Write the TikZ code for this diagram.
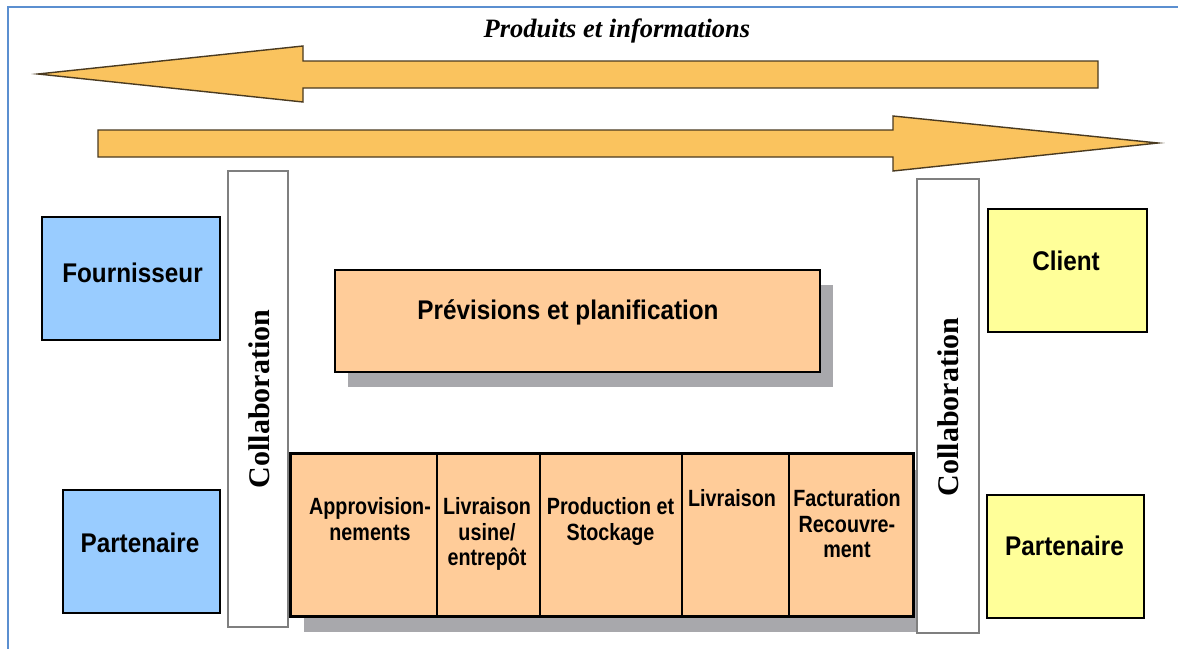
\documentclass[tikz,border=0pt]{standalone}
\usepackage{fontspec}
\setmainfont{Liberation Serif}
\newfontfamily\lsans[FakeStretch=0.9]{Liberation Sans}
\newfontfamily\lsanscond[FakeStretch=0.84]{Liberation Sans}
\definecolor{arrowfill}{HTML}{FAC35E}
\definecolor{arrowdraw}{HTML}{4A3A20}
\definecolor{bluefill}{HTML}{99CCFF}
\definecolor{yellowfill}{HTML}{FFFF99}
\definecolor{peach}{HTML}{FFCC99}
\definecolor{shadowgray}{HTML}{A8A8AC}
\definecolor{framecol}{HTML}{5B8FD0}
\definecolor{collabgray}{HTML}{7F7F7F}
\tikzset{
  x=1pt, y=-1pt,
  colbox/.style={draw=black, line width=2.6pt, inner sep=0pt},
  bluebox/.style={colbox, fill=bluefill},
  yellowbox/.style={colbox, fill=yellowfill},
  peachbox/.style={colbox, fill=peach},
  cellbox/.style={draw=black, line width=1.6pt, fill=peach, inner sep=0pt, minimum height=162pt},
  shadowbox/.style={fill=shadowgray, draw=none, inner sep=0pt},
  collabbox/.style={draw=collabgray, line width=1.6pt, fill=white, inner sep=0pt},
  collabtext/.style={font=\fontsize{30}{32}\selectfont\bfseries, rotate=90, inner sep=0pt},
  biglabel/.style={font=\lsans\fontsize{27}{30}\selectfont\bfseries, anchor=base, inner sep=0pt},
  celltext/.style={font=\lsanscond\fontsize{23.5}{25.5}\selectfont\bfseries, align=center, anchor=north, inner sep=0pt},
  flowarrow/.style={fill=arrowfill, draw=arrowdraw, line width=1.4pt, line join=miter},
}
\begin{document}
\begin{tikzpicture}
\useasboundingbox (0,0) rectangle (1178,648);
% frame
\draw[framecol, line width=1.8pt] (8,660) -- (8,7) -- (1190,7);
% title
\node[font=\fontsize{26.5}{28}\selectfont\bfseries\itshape, anchor=base, inner sep=0pt] (title) at (617,37) {Produits et informations};
% arrows
\draw[flowarrow] (1098,61) -- (303,61) -- (303,46) -- (38,74) -- (303,102) -- (303,88) -- (1098,88) -- cycle;
\draw[flowarrow] (98,130) -- (893,130) -- (893,116) -- (1158,143) -- (893,171) -- (893,157) -- (98,157) -- cycle;
% shadows
\node[shadowbox, minimum width=485pt, minimum height=102pt] (prevshadow) at (590.5,336) {};
\node[shadowbox, minimum width=622pt, minimum height=162pt] (procshadow) at (615,551) {};
% planning box
\node[peachbox, minimum width=485pt, minimum height=102pt] (prev) at (577.5,321) {};
\node[biglabel] (prevtxt) at (568,319) {Prévisions et planification};
% process cells
\node[cellbox, minimum width=146pt] (c1) at (364,535) {};
\node[cellbox, minimum width=103pt] (c2) at (488.5,535) {};
\node[cellbox, minimum width=142pt] (c3) at (611,535) {};
\node[cellbox, minimum width=107pt] (c4) at (735.5,535) {};
\node[cellbox, minimum width=124pt] (c5) at (851,535) {};
\draw[line width=2.6pt] (c1.north west) rectangle (c5.south east);
\node[celltext] (t1) at (370,497.5) {Approvision-\\nements};
\node[celltext] (t2) at (487,497.5) {Livraison\\usine/\\entrepôt};
\node[celltext] (t3) at (610.5,497.5) {Production et\\Stockage};
\node[celltext] (t4) at (732,489.5) {Livraison};
\node[celltext] (t5) at (847,489.5) {Facturation\\Recouvre-\\ment};
% collaboration columns
\node[collabbox, minimum width=60pt, minimum height=456pt] (collabL) at (258,399) {};
\node[collabtext] (collabLtxt) at (259,399) {Collaboration};
\node[collabbox, minimum width=62pt, minimum height=454pt] (collabR) at (948,406) {};
\node[collabtext] (collabRtxt) at (948,407) {Collaboration};
% side boxes
\node[bluebox, minimum width=178pt, minimum height=123pt] (fourn) at (131,278.5) {};
\node[biglabel] (fourntxt) at (132.5,282) {Fournisseur};
\node[bluebox, minimum width=157pt, minimum height=123pt] (partL) at (141.5,551.5) {};
\node[biglabel] (partLtxt) at (140,552) {Partenaire};
\node[yellowbox, minimum width=159pt, minimum height=123pt] (client) at (1067.5,270.5) {};
\node[biglabel] (clienttxt) at (1066,270) {Client};
\node[yellowbox, minimum width=157pt, minimum height=123pt] (partR) at (1065.5,556.5) {};
\node[biglabel] (partRtxt) at (1064.5,555) {Partenaire};
\end{tikzpicture}
\end{document}
